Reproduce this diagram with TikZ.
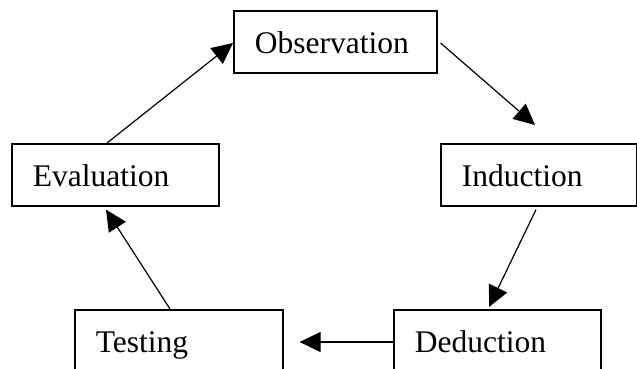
\documentclass[tikz,border=0pt]{standalone}
\usepackage{fontspec}
\setmainfont{Liberation Serif}
\usetikzlibrary{arrows.meta,calc}
\begin{document}
\begin{tikzpicture}[x=1pt,y=-1pt,
  stagebox/.style={draw, line width=1.6pt, anchor=north west,
    inner xsep=21pt, inner ysep=0pt, minimum height=62pt,
    text height=23pt, text depth=0pt, align=left,
    font=\fontsize{31.5}{36}\selectfont},
  flow/.style={line width=1.2pt, -{Triangle[length=21pt,width=20pt]}}]
  \useasboundingbox (0,0) rectangle (637,368);
  \clip (0,0) rectangle (637,368);
  \fill[white] (0,0) rectangle (637,368);

  % the five stages of the cycle
  \node[stagebox, text width=161pt] (ob) at (233,10)  {Observation};
  \node[stagebox, text width=154pt] (in) at (440,143) {Induction};
  \node[stagebox, text width=165pt] (ev) at (11,143)  {Evaluation};
  \node[stagebox, text width=166pt] (te) at (74,309)  {Testing};
  \node[stagebox, text width=165pt] (de) at (393,309) {Deduction};

  % loose end of the first arrow, above Induction
  \coordinate (inTip) at ($(in.north west)+(95,-18)$);

  % arrows around the cycle
  \draw[flow] ($(ob.north east)+(3,33)$) -- (inTip);
  \draw[flow] ($(in.south west)+(96,3)$) -- ($(de.north west)+(96,-2)$);
  \draw[flow] ($(de.north west)+(0,33)$) -- ($(te.north east)+(16,33)$);
  \draw[flow] ($(te.north west)+(96,0)$) -- ($(ev.south west)+(95,3)$);
  \draw[flow] ($(ev.north west)+(96,0)$) -- ($(ob.north west)+(0,33)$);
\end{tikzpicture}
\end{document}
